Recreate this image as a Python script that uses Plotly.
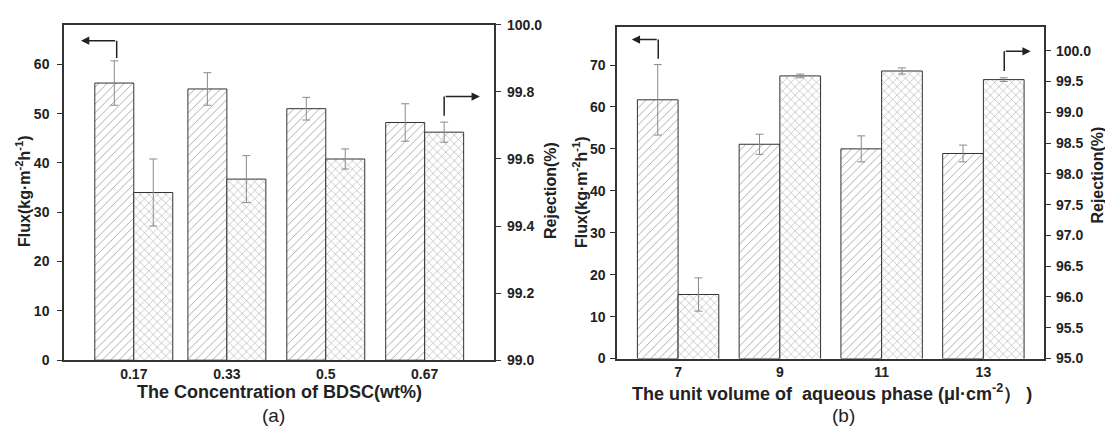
import plotly.graph_objects as go

# ---------------- data ----------------
conc_a = [0.17, 0.33, 0.5, 0.67]
conc_a_labels = ["0.17", "0.33", "0.5", "0.67"]
flux_a = [56.2, 55.0, 51.0, 48.2]
flux_a_err = [4.5, 3.3, 2.3, 3.8]
rej_a = [99.50, 99.54, 99.60, 99.68]
rej_a_err = [0.10, 0.07, 0.03, 0.03]

vol_b = [7, 9, 11, 13]
vol_b_labels = ["7", "9", "11", "13"]
flux_b = [61.7, 51.1, 50.0, 48.9]
flux_b_err = [8.4, 2.4, 3.1, 2.0]
rej_b = [96.04, 99.59, 99.67, 99.53]
rej_b_err = [0.27, 0.03, 0.05, 0.03]

FONT = "Arial, 'Liberation Sans', sans-serif"
LINE = "#333333"
W_A = 0.067
W_B = 0.8

fig = go.Figure()


def bars(x, y, err, w, offset, shape, size, sol, xa, ya):
    return go.Bar(
        x=x, y=y, width=w, offset=offset, xaxis=xa, yaxis=ya,
        marker=dict(color="white", line=dict(color=LINE, width=1),
                    pattern=dict(shape=shape, fgcolor="#2a2a2a", bgcolor="white",
                                 size=size, solidity=sol)),
        error_y=dict(type="data", array=err, visible=True, color="#8a8a8a",
                     thickness=1, width=4),
        showlegend=False,
    )


fig.add_trace(bars(conc_a, flux_a, flux_a_err, W_A, -W_A, "/", 6, 0.13, "x", "y"))
fig.add_trace(bars(conc_a, rej_a, rej_a_err, W_A, 0, "x", 6, 0.15, "x", "y2"))
fig.add_trace(bars(vol_b, flux_b, flux_b_err, W_B, -W_B, "/", 6, 0.13, "x2", "y3"))
fig.add_trace(bars(vol_b, rej_b, rej_b_err, W_B, 0, "x", 6, 0.15, "x2", "y4"))

tickfont = dict(family=FONT, size=14, color="#222222", weight="bold")
axline = dict(showline=True, linecolor=LINE, linewidth=1.5, showgrid=False,
              zeroline=False, tickfont=tickfont, tickcolor=LINE)

fig.update_layout(
    width=1105, height=433,
    margin=dict(l=0, r=0, t=0, b=0),
    paper_bgcolor="white", plot_bgcolor="white",
    barmode="overlay",
    xaxis=dict(domain=[0.0579, 0.4475], range=[0.05, 0.79], anchor="y",
               mirror=True, ticks="", tickvals=conc_a, ticktext=conc_a_labels,
               **axline),
    yaxis=dict(domain=[0.1554, 0.9596], range=[0, 68], anchor="x",
               ticks="outside", ticklen=5, tickvals=[0, 10, 20, 30, 40, 50, 60],
               ticklabelstandoff=5, **axline),
    yaxis2=dict(overlaying="y", side="right", range=[99.0, 100.0], anchor="x",
                ticks="outside", ticklen=5, dtick=0.2, tick0=99.0, tickformat=".1f",
                ticklabelstandoff=3, **axline),
    xaxis2=dict(domain=[0.5584, 0.9452], range=[5.8, 14.2], anchor="y3",
                mirror=True, ticks="", tickvals=vol_b, ticktext=vol_b_labels,
                **axline),
    yaxis3=dict(domain=[0.1594, 0.9538], range=[0, 79], anchor="x2",
                ticks="outside", ticklen=5, tickvals=[0, 10, 20, 30, 40, 50, 60, 70],
                ticklabelstandoff=2, **axline),
    yaxis4=dict(overlaying="y3", side="right", range=[95.0, 100.38], anchor="x2",
                ticks="outside", ticklen=5, dtick=0.5, tick0=95.0, tickformat=".1f",
                ticklabelstandoff=2, **axline),
)

# ---------------- L-shaped arrows ----------------
arrows = [
    # (xref, yref, corner_x, bottom_y, level_y, tip_x)
    ("x", "y", 0.1406, 61.3, 64.8, 0.0792),
    ("x", "y2", 0.7035, 99.729, 99.786, 0.7648),
    ("x2", "y3", 6.61, 71.5, 76.06, 6.09),
    ("x2", "y4", 13.41, 99.67, 99.99, 13.93),
]
for xr, yr, cx, by, ly, tx in arrows:
    fig.add_shape(type="line", xref=xr, yref=yr, x0=cx, x1=cx, y0=by, y1=ly,
                  line=dict(color="#222222", width=1.5))
    fig.add_annotation(xref=xr, yref=yr, axref=xr, ayref=yr, x=tx, y=ly, ax=cx, ay=ly,
                       text="", showarrow=True, arrowhead=2, arrowsize=1.1,
                       arrowwidth=1.5, arrowcolor="#222222", standoff=0, startstandoff=0)


def ann(text, x, y, angle=0, size=16, bold=True):
    fig.add_annotation(xref="paper", yref="paper", x=x / 1105, y=1 - y / 433,
                       text=(f"<b>{text}</b>" if bold else text), showarrow=False,
                       textangle=angle, xanchor="center", yanchor="middle",
                       font=dict(family=FONT, size=size, color="#222222"))


ann("Flux(kg·m<sup>-2</sup>h<sup>-1</sup>)", 23, 191, -90)
ann("Rejection(%)", 551, 190, -90)
ann("Flux(kg·m<sup>-2</sup>h<sup>-1</sup>)", 580, 192, -90)
ann("Rejection(%)", 1098, 174, -90)
ann("The Concentration of BDSC(wt%)", 279, 399, 0, 18)
ann("The unit volume of  aqueous phase (μl·cm<sup>-2</sup>） )", 832, 399, 0, 18)
ann("(a)", 273, 423, 0, 19, bold=False)
ann("(b)", 843, 423, 0, 19, bold=False)

fig.write_html("out.html")
